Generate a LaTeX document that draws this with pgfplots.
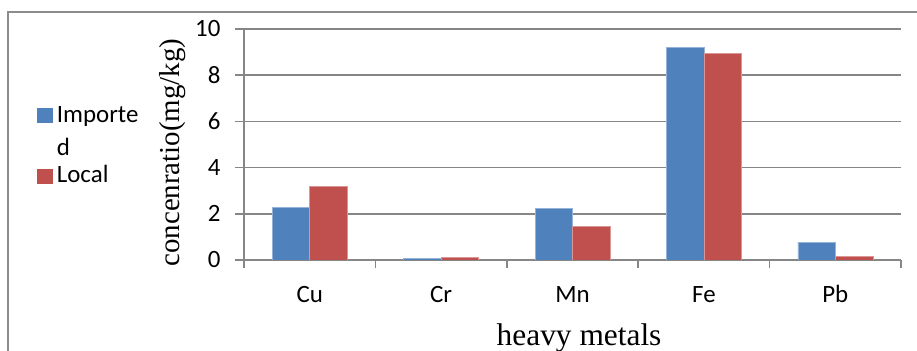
\documentclass[border=0pt]{standalone}
\usepackage{pgfplots}
\pgfplotsset{compat=1.18}
\usepackage{fontspec}
\setmainfont{Carlito}
\newfontfamily\seriffont{Liberation Serif}
\definecolor{barblue}{HTML}{4F81BD}
\definecolor{barred}{HTML}{C0504D}
\definecolor{axisgray}{HTML}{868686}
\definecolor{framegray}{HTML}{8C8C8C}

\begin{document}
\begin{tikzpicture}
\begin{axis}[
  at={(244bp,91bp)}, anchor=south west,
  scale only axis, width=657bp, height=231bp,
  xmin=-0.5, xmax=4.5, ymin=0, ymax=10,
  ybar=0pt, bar width=37.5bp,
  axis x line=bottom, axis y line=left,
  axis line style={-, draw=axisgray, line width=1.5bp},
  tick align=outside,
  xtick={0,1,2,3,4}, xticklabels={Cu,Cr,Mn,Fe,Pb},
  x tick style={draw=none},
  extra x ticks={-0.5,0.5,1.5,2.5,3.5,4.5},
  extra x tick labels={},
  extra x tick style={x tick style={draw=axisgray, line width=1.5bp}, major tick length=8bp},
  ytick={0,2,4,6,8,10},
  y tick style={draw=axisgray, line width=1.5bp},
  major tick length=9bp,
  ymajorgrids, grid style={draw=axisgray, line width=1.5bp},
  /pgf/number format/assume math mode=true,
  tick label style={font=\fontsize{25}{30}\selectfont},
  x tick label style={anchor=base, yshift=-33bp},
  y tick label style={xshift=-11bp},
  xlabel={heavy metals},
  xlabel style={font=\seriffont\fontsize{31.5}{37}\selectfont,
    at={(axis description cs:0.51,-0.368)}, anchor=base},
  ylabel={concenratio(mg/kg)},
  ylabel style={font=\seriffont\fontsize{29}{35}\selectfont,
    at={(axis description cs:-0.108,0.465)}, anchor=center},
  legend style={at={(axis description cs:-0.3146,0.669)}, anchor=north west,
    draw=none, fill=none, inner sep=0pt, outer sep=0pt,
    font=\fontsize{25}{30}\selectfont, column sep=4bp, row sep=10.7bp,
    nodes={inner sep=0pt, text height=17bp, text depth=5bp}},
  legend cell align=left,
]
\addplot[fill=barblue, draw=barblue!60!white, line width=0.6bp,
  legend image code/.code={\fill[barblue] (0bp,-6bp) rectangle (15bp,8bp);}]
  coordinates {(0,2.28) (1,0.08) (2,2.24) (3,9.21) (4,0.77)};
\addlegendentry{Importe}
% the wrapped tail of the first entry
\addlegendimage{empty legend}
\addlegendentry[text depth=0bp]{d}
\addplot[fill=barred, draw=barred!60!white, line width=0.6bp,
  legend image code/.code={\fill[barred] (0bp,-6bp) rectangle (15bp,8bp);}]
  coordinates {(0,3.20) (1,0.10) (2,1.47) (3,8.95) (4,0.14)};
\addlegendentry{Local}
\end{axis}
% chart frame
\draw[framegray, line width=1.2bp] (8bp,-5bp) -- (8bp,339bp) -- (925bp,339bp);
\pgfresetboundingbox
\useasboundingbox (0,0) rectangle (917bp,351bp);
\end{tikzpicture}
\end{document}
